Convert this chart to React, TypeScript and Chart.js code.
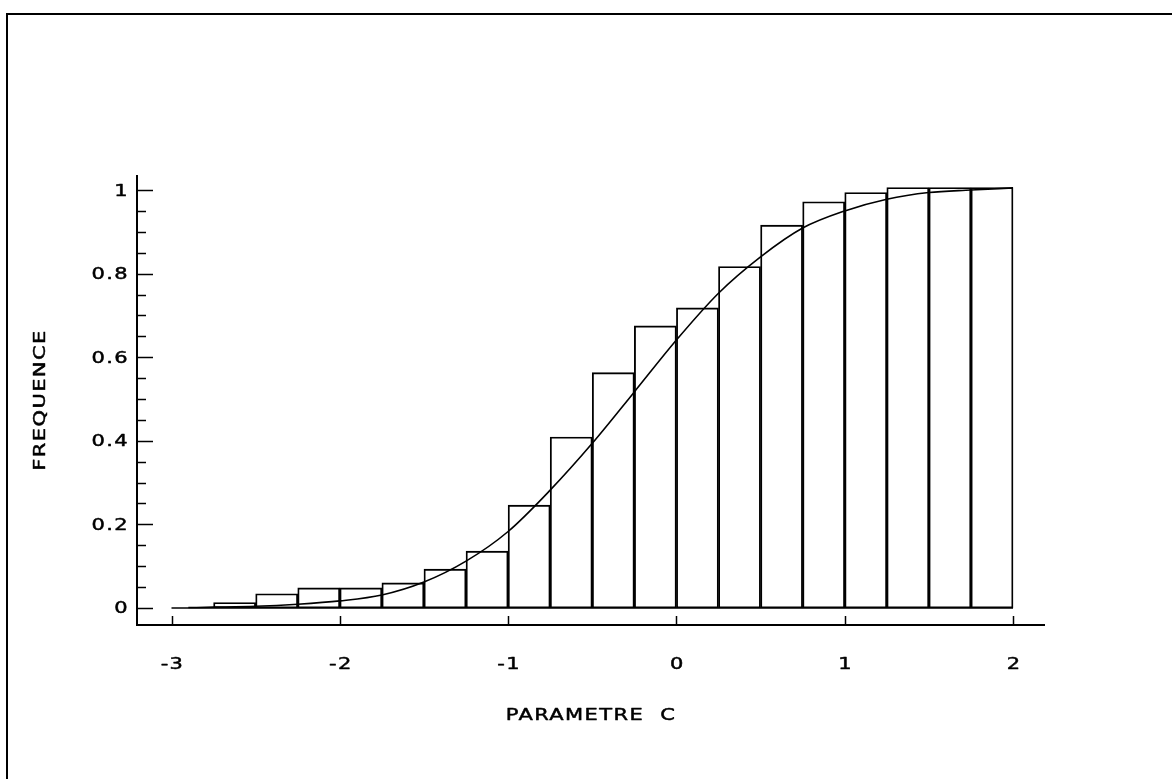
import React, { useEffect, useRef } from "react";
import { Chart, registerables } from "chart.js";

Chart.register(...registerables);

// Histogram bins (centers, width 0.25) and cumulative frequencies
const binCenters = [
  -2.875, -2.625, -2.375, -2.125, -1.875, -1.625, -1.375, -1.125, -0.875, -0.625,
  -0.375, -0.125, 0.125, 0.375, 0.625, 0.875, 1.125, 1.375, 1.625, 1.875,
];
const binFreq = [
  0, 0.013, 0.034, 0.048, 0.048, 0.06, 0.093, 0.136, 0.246, 0.409,
  0.563, 0.675, 0.718, 0.817, 0.916, 0.972, 0.994, 1.006, 1.006, 1.006,
];

// Smooth fitted curve
const curveX = [
  -2.9, -2.75, -2.5, -2.25, -2, -1.75, -1.5, -1.25, -1, -0.75, -0.5, -0.25,
  0, 0.25, 0.5, 0.75, 1, 1.25, 1.5, 1.75, 2,
];
const curveY = [
  0.001, 0.002, 0.004, 0.009, 0.017, 0.031, 0.062, 0.112, 0.183, 0.282, 0.394, 0.517,
  0.641, 0.753, 0.84, 0.909, 0.95, 0.978, 0.994, 1.0, 1.005,
];

// Axis ticks
const xTickValues = [-3, -2, -1, 0, 1, 2];
const xTickLabels = ["-3", "-2", "-1", "0", "1", "2"];
const yTickValues = [0, 0.2, 0.4, 0.6, 0.8, 1];
const yTickLabels = ["0", "0.2", "0.4", "0.6", "0.8", "1"];
const yMinorStep = 0.05;

const xTitle = "PARAMETRE  C";
const yTitle = "FREQUENCE";

const FONT = '15px "DejaVu Sans"';
const STRETCH = 1.4;

function drawStretched(
  ctx: CanvasRenderingContext2D,
  text: string,
  x: number,
  y: number,
  align: CanvasTextAlign,
  rotation = 0
) {
  ctx.save();
  ctx.translate(x, y);
  ctx.rotate(rotation);
  ctx.scale(STRETCH, 1);
  ctx.font = FONT;
  (ctx as any).letterSpacing = "1px";
  ctx.fillStyle = "#000";
  ctx.strokeStyle = "#000";
  ctx.lineWidth = 0.45;
  ctx.lineJoin = "round";
  ctx.textAlign = align;
  ctx.textBaseline = "alphabetic";
  ctx.fillText(text, 0, 0);
  ctx.strokeText(text, 0, 0);
  ctx.restore();
}

const decorPlugin = {
  id: "plotterDecor",
  beforeDraw(chart: any) {
    const ctx: CanvasRenderingContext2D = chart.ctx;
    ctx.save();
    ctx.fillStyle = "#fff";
    ctx.fillRect(0, 0, chart.width, chart.height);
    // page frame (top + left edges)
    ctx.strokeStyle = "#000";
    ctx.lineWidth = 2;
    ctx.beginPath();
    ctx.moveTo(7, 779);
    ctx.lineTo(7, 14);
    ctx.lineTo(1172, 14);
    ctx.stroke();
    ctx.restore();
  },
  afterDraw(chart: any) {
    const ctx: CanvasRenderingContext2D = chart.ctx;
    const xs = chart.scales.x;
    const ys = chart.scales.y;
    const area = chart.chartArea;
    ctx.save();
    ctx.strokeStyle = "#000";
    ctx.lineCap = "butt";

    // baseline of histogram
    ctx.lineWidth = 1.3;
    ctx.beginPath();
    ctx.moveTo(xs.getPixelForValue(xTickValues[0]), ys.getPixelForValue(0));
    ctx.lineTo(xs.getPixelForValue(xTickValues[xTickValues.length - 1]), ys.getPixelForValue(0));
    ctx.stroke();

    // axis lines
    ctx.lineWidth = 2;
    ctx.beginPath();
    ctx.moveTo(area.left, area.top);
    ctx.lineTo(area.left, area.bottom);
    ctx.lineTo(area.right, area.bottom);
    ctx.stroke();

    // y ticks (inward)
    ctx.lineWidth = 1.5;
    const nMinor = Math.round((yTickValues[yTickValues.length - 1] - yTickValues[0]) / yMinorStep);
    for (let i = 0; i <= nMinor; i++) {
      const v = yTickValues[0] + i * yMinorStep;
      const isMajor = yTickValues.some((t) => Math.abs(t - v) < 1e-6);
      const py = Math.round(ys.getPixelForValue(v)) + 0.5;
      ctx.beginPath();
      ctx.moveTo(area.left, py);
      ctx.lineTo(area.left + (isMajor ? 16 : 9), py);
      ctx.stroke();
    }
    // x ticks (upward)
    xTickValues.forEach((v) => {
      const px = Math.round(xs.getPixelForValue(v)) + 0.5;
      ctx.beginPath();
      ctx.moveTo(px, area.bottom);
      ctx.lineTo(px, area.bottom - 9);
      ctx.stroke();
    });
    ctx.restore();

    // tick labels
    yTickValues.forEach((v, i) => {
      drawStretched(ctx, yTickLabels[i], area.left - 8, ys.getPixelForValue(v) + 5.5, "right");
    });
    xTickValues.forEach((v, i) => {
      drawStretched(ctx, xTickLabels[i], xs.getPixelForValue(v) + 1, area.bottom + 43.5, "center");
    });

    // titles
    drawStretched(ctx, xTitle, (area.left + area.right) / 2, 720, "center");
    drawStretched(ctx, yTitle, 45, (area.top + area.bottom) / 2, "center", -Math.PI / 2);
  },
};

export default function App() {
  const canvasRef = useRef<HTMLCanvasElement | null>(null);

  useEffect(() => {
    const canvas = canvasRef.current;
    if (!canvas) return;
    const chart = new Chart(canvas, {
      type: "bar",
      data: {
        datasets: [
          {
            type: "line",
            data: curveX.map((x, i) => ({ x, y: curveY[i] })),
            borderColor: "#000",
            borderWidth: 1.6,
            pointRadius: 0,
            cubicInterpolationMode: "monotone",
            fill: false,
            order: 0,
          } as any,
          {
            type: "bar",
            data: binCenters.map((x, i) => ({ x, y: binFreq[i] })),
            backgroundColor: "rgba(0,0,0,0)",
            borderColor: "#000",
            borderWidth: 1.2,
            borderSkipped: false,
            barPercentage: 1,
            categoryPercentage: 1,
            order: 1,
          } as any,
        ],
      },
      options: {
        responsive: false,
        animation: false,
        layout: { padding: { left: 137, top: 175, right: 127, bottom: 154 } },
        plugins: { legend: { display: false }, tooltip: { enabled: false } },
        scales: {
          x: { type: "linear", display: false, offset: false, min: -3.205, max: 2.19 },
          y: { type: "linear", display: false, min: -0.0407, max: 1.0359 },
        },
      },
      plugins: [decorPlugin],
    });
    return () => chart.destroy();
  }, []);

  return (
    <div
      style={{
        position: "absolute",
        left: 0,
        top: 0,
        width: 1172,
        height: 779,
        background: "#fff",
        overflow: "hidden",
      }}
    >
      <canvas ref={canvasRef} width={1172} height={779} style={{ display: "block" }} />
    </div>
  );
}
